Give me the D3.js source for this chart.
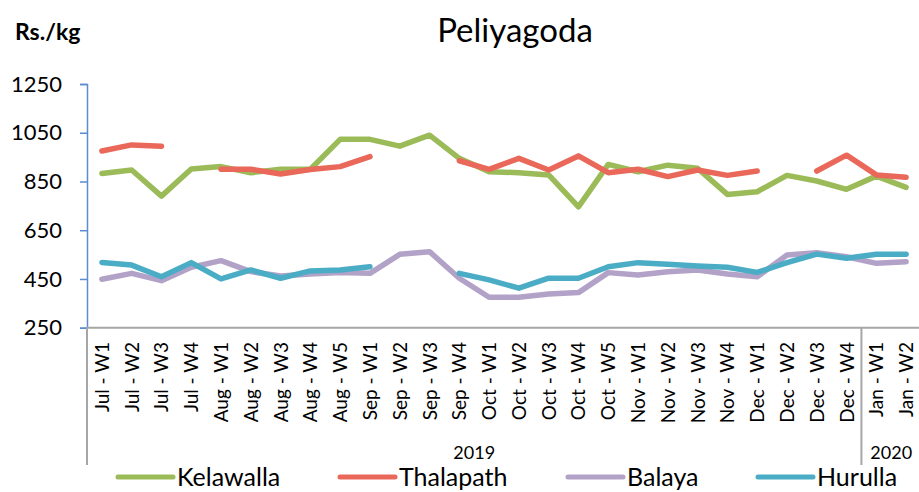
<!DOCTYPE html>
<html>
<head>
<meta charset="utf-8">
<script src="https://cdn.jsdelivr.net/npm/d3@7"></script>
<style>
  body { margin: 0; background: #fff; }
  text { font-family: Lato, "Open Sans", sans-serif; fill: #000; }
</style>
</head>
<body>
<div id="chart"></div>
<script>
const weeks = ['Jul - W1','Jul - W2','Jul - W3','Jul - W4','Aug - W1','Aug - W2','Aug - W3','Aug - W4','Aug - W5',
  'Sep - W1','Sep - W2','Sep - W3','Sep - W4','Oct - W1','Oct - W2','Oct - W3','Oct - W4','Oct - W5',
  'Nov - W1','Nov - W2','Nov - W3','Nov - W4','Dec - W1','Dec - W2','Dec - W3','Dec - W4','Jan - W1','Jan - W2']

const kelawalla = [883,897,790,901,911,886,900,900,1023,1023,995,1040,945,890,886,877,746,920,890,917,904,797,808,875,852,818,872,826]
const thalapath = [975,1000,995,null,900,900,881,899,911,952,null,null,935,900,945,897,955,886,900,870,897,875,893,null,893,958,877,867]
const balaya = [449,473,443,498,525,480,462,470,476,473,551,562,453,375,375,388,394,476,466,480,487,470,459,548,558,541,514,521]
const hurulla = [518,507,459,517,450,487,453,483,487,500,null,null,473,446,412,453,453,500,517,510,503,498,477,517,552,535,551,551]

const yTicks = [250,450,650,850,1050,1250]
const years = [{label:'2019', from:0, to:26}, {label:'2020', from:26, to:28}]

const seriesNames = ['Kelawalla','Thalapath','Balaya','Hurulla']
const colors = ['#9bbb59','#e9685a','#b3a2c7','#4bacc6']

const width = 919, height = 492

const svg = d3.select('#chart').append('svg')
    .attr('width', width)
    .attr('height', height)

const x = d3.scaleBand().domain(weeks).range([87, 921]).padding(0)
const y = d3.scaleLinear().domain([250, 1250]).range([327.7, 84])

// title + unit
svg.append('text')
    .attr('x', 515).attr('y', 42)
    .attr('text-anchor', 'middle')
    .attr('font-size', 33)
    .text('Peliyagoda')

svg.append('text')
    .attr('x', 15).attr('y', 40)
    .attr('font-size', 23)
    .attr('font-weight', 'bold')
    .text('Rs./kg')

// y axis
const yAxis = svg.append('g')
    .attr('transform', 'translate(87,0)')
    .call(d3.axisLeft(y).tickValues(yTicks).tickSize(7).tickPadding(18).tickFormat(d3.format('d')))
yAxis.select('.domain').attr('stroke', '#5b8bd0').attr('stroke-width', 1.5)
yAxis.selectAll('.tick line').attr('stroke', '#5b8bd0').attr('stroke-width', 1.5)
yAxis.selectAll('.tick text')
    .attr('font-size', 22)
    .attr('font-family', 'Lato, sans-serif')
    .attr('fill', '#000')

// x axis line
svg.append('line')
    .attr('x1', 87).attr('x2', 921)
    .attr('y1', y(250)).attr('y2', y(250))
    .attr('stroke', '#a6a6a6').attr('stroke-width', 2)

// x tick labels
svg.append('g').selectAll('text')
    .data(weeks)
    .join('text')
    .attr('transform', d => `translate(${x(d) + x.bandwidth() / 2 + 7},342) rotate(-90)`)
    .attr('text-anchor', 'end')
    .attr('font-size', 19)
    .text(d => d)

// year group separators + labels
const seps = [0, 26]
svg.append('g').selectAll('line')
    .data(seps)
    .join('line')
    .attr('x1', d => x(weeks[d])).attr('x2', d => x(weeks[d]))
    .attr('y1', y(250)).attr('y2', 465)
    .attr('stroke', '#a6a6a6').attr('stroke-width', 2)

svg.append('g').selectAll('text')
    .data(years)
    .join('text')
    .attr('x', d => {
        const a = x(weeks[d.from])
        const b = d.to < weeks.length ? x(weeks[d.to]) : 921
        return (a + b) / 2
    })
    .attr('y', 459)
    .attr('text-anchor', 'middle')
    .attr('font-size', 18)
    .text(d => d.label)

// lines
const allSeries = [kelawalla, thalapath, balaya, hurulla]
const line = d3.line()
    .defined(d => d != null)
    .x((d, i) => x(weeks[i]) + x.bandwidth() / 2)
    .y(d => y(d))

svg.append('g').selectAll('path')
    .data(allSeries)
    .join('path')
    .attr('d', d => line(d))
    .attr('fill', 'none')
    .attr('stroke', (d, i) => colors[i])
    .attr('stroke-width', 5.5)
    .attr('stroke-linecap', 'round')
    .attr('stroke-linejoin', 'round')

// legend
const legendX = [118, 340, 568, 758]
const leg = svg.append('g').selectAll('g')
    .data(seriesNames)
    .join('g')
    .attr('transform', (d, i) => `translate(${legendX[i]},477)`)
leg.append('line')
    .attr('x1', 0).attr('x2', 55)
    .attr('stroke', (d, i) => colors[i])
    .attr('stroke-width', 5)
    .attr('stroke-linecap', 'round')
leg.append('text')
    .attr('x', 59).attr('y', 9)
    .attr('font-size', 25)
    .text(d => d)
</script>
</body>
</html>
